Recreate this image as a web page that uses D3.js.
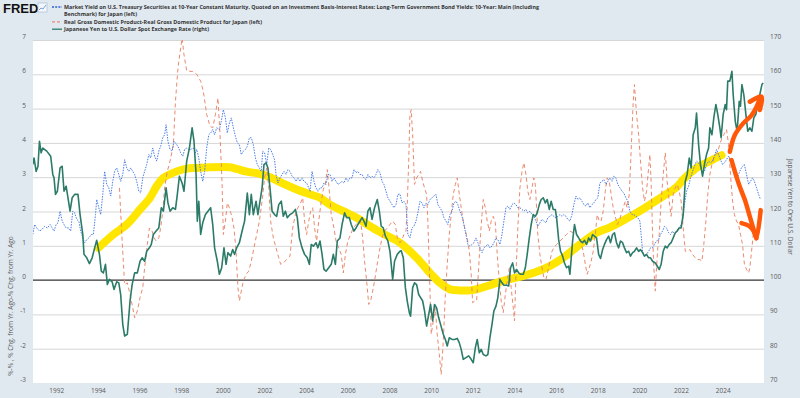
<!DOCTYPE html>
<html>
<head>
<meta charset="utf-8">
<script src="https://cdn.jsdelivr.net/npm/d3@7"></script>
<style>
  body { margin: 0; background: #e1e9f0; }
  text { font-family: "Open Sans", Arial, sans-serif; }
</style>
</head>
<body>
<div id="viz"></div>
<script>
// legend + axis text
const legendLabels = [
    "Market Yield on U.S. Treasury Securities at 10-Year Constant Maturity, Quoted on an Investment Basis-Interest Rates: Long-Term Government Bond Yields: 10-Year: Main (Including",
    "Benchmark) for Japan (left)",
    "Real Gross Domestic Product-Real Gross Domestic Product for Japan (left)",
    "Japanese Yen to U.S. Dollar Spot Exchange Rate (right)"
];
const leftTitle = "%-% , % Chg. from Yr. Ago-% Chg. from Yr. Ago";
const rightTitle = "Japanese Yen to One U.S. Dollar";
const xTicks = [1992, 1994, 1996, 1998, 2000, 2002, 2004, 2006, 2008, 2010, 2012, 2014, 2016, 2018, 2020, 2022, 2024];
const leftTicks = [-3, -2, -1, 0, 1, 2, 3, 4, 5, 6, 7];
const rightTicks = [70, 80, 90, 100, 110, 120, 130, 140, 150, 160, 170];

// [year, yen per dollar] (right axis)
const yenSeries = [
    [1990.85,133.7],[1990.91,135.6],[1991.01,131.7],[1991.10,133.2],[1991.17,140.5],[1991.25,137.1],[1991.33,138.5],[1991.52,137.6],
    [1991.71,136.1],[1991.81,130.8],[1991.87,129.8],[1991.94,125.0],[1992.03,125.9],[1992.16,132.7],[1992.26,133.2],[1992.35,125.9],
    [1992.45,127.4],[1992.54,124.0],[1992.64,120.1],[1992.74,124.0],[1992.86,125.0],[1993.02,125.0],[1993.12,119.1],[1993.25,113.3],
    [1993.31,107.5],[1993.44,106.5],[1993.57,104.8],[1993.70,106.5],[1993.82,109.4],[1993.92,111.6],[1994.05,107.5],[1994.14,102.6],
    [1994.24,102.1],[1994.34,104.6],[1994.43,98.7],[1994.53,100.2],[1994.66,99.5],[1994.75,97.3],[1994.88,99.5],[1994.98,99.2],
    [1995.07,95.8],[1995.17,87.1],[1995.26,83.7],[1995.39,84.2],[1995.52,93.9],[1995.62,98.7],[1995.74,102.1],[1995.87,102.1],
    [1996.00,105.5],[1996.10,106.5],[1996.22,105.5],[1996.32,108.4],[1996.45,109.4],[1996.54,110.4],[1996.64,113.3],[1996.77,114.3],
    [1996.90,115.2],[1997.02,121.1],[1997.12,120.1],[1997.25,126.9],[1997.34,122.5],[1997.44,120.1],[1997.57,121.1],[1997.70,120.6],
    [1997.79,125.0],[1997.89,130.3],[1998.02,128.3],[1998.11,125.9],[1998.24,134.7],[1998.37,138.5],[1998.50,144.4],[1998.59,140.5],
    [1998.69,130.8],[1998.75,117.2],[1998.82,123.0],[1998.91,113.3],[1999.01,116.7],[1999.14,119.1],[1999.26,120.1],[1999.39,121.1],
    [1999.49,116.2],[1999.58,109.4],[1999.71,105.5],[1999.81,101.7],[1999.92,103.6],[2000.03,109.4],[2000.13,104.6],[2000.22,108.0],
    [2000.35,107.0],[2000.45,108.9],[2000.54,107.5],[2000.64,109.4],[2000.77,110.9],[2000.90,114.3],[2001.02,117.2],[2001.15,125.4],
    [2001.25,119.1],[2001.34,125.0],[2001.44,119.1],[2001.57,123.0],[2001.66,119.1],[2001.76,123.0],[2001.86,126.9],[2001.95,133.7],
    [2002.05,134.2],[2002.14,132.7],[2002.24,126.9],[2002.34,120.1],[2002.46,119.1],[2002.56,118.6],[2002.66,122.0],[2002.78,123.0],
    [2002.88,118.6],[2002.98,120.1],[2003.07,118.2],[2003.20,119.1],[2003.33,119.6],[2003.46,120.6],[2003.55,118.2],[2003.65,112.3],
    [2003.78,109.4],[2003.90,107.5],[2004.03,106.5],[2004.13,104.6],[2004.22,110.4],[2004.32,109.9],[2004.45,110.9],[2004.54,109.4],
    [2004.64,111.4],[2004.74,107.5],[2004.83,103.1],[2004.93,102.6],[2005.06,103.6],[2005.18,104.6],[2005.28,107.5],[2005.38,104.6],
    [2005.47,111.4],[2005.60,112.3],[2005.70,116.2],[2005.82,119.6],[2005.92,118.2],[2006.05,118.2],[2006.14,116.2],[2006.27,114.3],
    [2006.37,115.2],[2006.46,116.2],[2006.56,117.2],[2006.66,118.2],[2006.75,117.2],[2006.85,115.7],[2006.94,120.1],[2007.04,121.1],
    [2007.14,117.7],[2007.26,121.1],[2007.39,123.5],[2007.49,120.1],[2007.58,115.7],[2007.68,115.2],[2007.78,112.8],[2007.90,111.4],
    [2008.00,108.4],[2008.13,100.2],[2008.22,105.5],[2008.35,107.5],[2008.48,108.4],[2008.54,108.6],[2008.64,106.5],[2008.74,97.8],
    [2008.83,93.9],[2008.93,90.5],[2008.99,89.5],[2009.09,97.8],[2009.18,99.2],[2009.28,98.7],[2009.38,95.8],[2009.47,94.9],
    [2009.57,93.9],[2009.66,91.0],[2009.76,86.6],[2009.86,90.0],[2009.95,92.9],[2010.05,88.1],[2010.14,92.9],[2010.24,91.9],
    [2010.34,89.0],[2010.43,87.1],[2010.56,84.2],[2010.66,82.7],[2010.75,80.8],[2010.85,83.2],[2010.98,82.7],[2011.10,82.7],
    [2011.23,83.0],[2011.33,81.7],[2011.42,79.8],[2011.52,76.9],[2011.65,77.4],[2011.78,77.9],[2011.90,76.9],[2012.00,75.9],
    [2012.10,80.3],[2012.19,82.7],[2012.29,78.8],[2012.38,79.8],[2012.48,78.3],[2012.61,77.9],[2012.70,78.3],[2012.80,83.2],
    [2012.90,87.1],[2012.99,91.0],[2013.09,92.4],[2013.18,94.9],[2013.28,100.2],[2013.38,99.2],[2013.47,98.5],[2013.60,98.5],
    [2013.70,98.3],[2013.79,103.6],[2013.89,105.0],[2013.98,102.1],[2014.08,103.1],[2014.18,102.1],[2014.27,101.7],[2014.40,101.7],
    [2014.50,103.6],[2014.59,107.5],[2014.69,112.3],[2014.78,116.2],[2014.88,119.1],[2014.98,118.6],[2015.07,119.6],[2015.17,122.0],
    [2015.26,123.5],[2015.36,124.0],[2015.46,122.5],[2015.55,123.5],[2015.65,120.6],[2015.74,123.0],[2015.84,120.6],[2015.94,120.6],
    [2016.00,118.2],[2016.10,111.8],[2016.19,108.4],[2016.29,107.0],[2016.38,105.0],[2016.48,103.6],[2016.58,104.1],[2016.64,101.7],
    [2016.77,111.4],[2016.86,116.2],[2016.96,113.3],[2017.06,112.3],[2017.15,111.4],[2017.25,110.9],[2017.34,111.6],[2017.44,110.4],
    [2017.54,112.3],[2017.63,111.4],[2017.73,113.3],[2017.82,112.8],[2017.92,112.3],[2018.02,107.5],[2018.11,106.3],[2018.21,108.9],
    [2018.30,110.4],[2018.40,111.8],[2018.50,112.8],[2018.59,110.9],[2018.69,113.3],[2018.78,113.8],[2018.88,110.9],[2018.98,109.4],
    [2019.07,111.4],[2019.17,110.9],[2019.26,109.4],[2019.36,108.0],[2019.46,108.4],[2019.55,107.0],[2019.65,108.0],[2019.74,108.4],
    [2019.84,109.4],[2019.94,108.4],[2020.03,108.9],[2020.13,108.0],[2020.22,107.0],[2020.32,107.5],[2020.42,106.5],[2020.51,106.5],
    [2020.61,105.5],[2020.74,105.0],[2020.83,104.1],[2020.93,103.1],[2021.02,104.6],[2021.12,108.4],[2021.22,109.9],[2021.31,109.4],
    [2021.41,110.4],[2021.50,110.9],[2021.60,112.3],[2021.70,113.8],[2021.79,114.3],[2021.89,115.2],[2021.98,115.2],[2022.08,119.1],
    [2022.18,128.8],[2022.27,130.8],[2022.37,135.6],[2022.46,132.7],[2022.56,142.4],[2022.66,144.4],[2022.72,148.7],[2022.82,139.5],
    [2022.91,133.7],[2023.01,130.3],[2023.10,133.7],[2023.20,136.6],[2023.30,138.5],[2023.36,144.4],[2023.46,142.4],[2023.55,147.3],
    [2023.65,151.2],[2023.74,148.3],[2023.84,144.4],[2023.90,141.5],[2024.00,148.3],[2024.10,151.2],[2024.16,149.7],[2024.22,158.0],
    [2024.32,158.0],[2024.42,160.9],[2024.48,154.1],[2024.58,146.3],[2024.67,143.4],[2024.77,152.1],[2024.83,150.7],[2024.90,157.0],
    [2024.99,154.1],[2025.09,148.3],[2025.18,143.4],[2025.28,144.4],[2025.38,143.4],[2025.47,147.3],[2025.57,148.3],[2025.66,151.2],
    [2025.76,154.1],[2025.86,157.0],[2025.92,157.5]
];

// [year, %] 10y UST minus 10y JGB (left axis)
const spreadSeries = [
    [1990.85,1.33],[1990.94,1.62],[1991.04,1.52],[1991.17,1.43],[1991.30,1.48],[1991.42,1.57],[1991.55,1.52],[1991.68,1.62],
    [1991.78,1.52],[1991.87,1.43],[1991.97,1.62],[1992.06,1.67],[1992.16,2.01],[1992.26,1.72],[1992.35,1.62],[1992.45,1.52],
    [1992.58,1.52],[1992.67,1.43],[1992.77,2.01],[1992.86,1.96],[1992.96,1.77],[1993.06,1.72],[1993.15,1.43],[1993.25,1.23],
    [1993.34,1.09],[1993.44,1.18],[1993.54,1.23],[1993.66,1.33],[1993.76,1.33],[1993.86,1.91],[1993.92,2.35],[1994.02,2.11],
    [1994.11,1.91],[1994.21,2.50],[1994.30,3.17],[1994.40,2.79],[1994.50,2.69],[1994.59,2.45],[1994.69,2.88],[1994.78,3.17],
    [1994.88,3.27],[1994.98,3.08],[1995.07,2.88],[1995.17,3.08],[1995.26,3.51],[1995.36,3.27],[1995.46,3.17],[1995.55,3.27],
    [1995.65,3.17],[1995.74,3.08],[1995.84,2.88],[1995.94,2.59],[1996.03,2.54],[1996.13,2.98],[1996.22,3.17],[1996.32,3.37],
    [1996.42,3.66],[1996.51,3.56],[1996.61,3.85],[1996.70,3.61],[1996.80,3.47],[1996.90,3.76],[1996.99,3.90],[1997.09,4.15],
    [1997.18,4.24],[1997.25,4.53],[1997.34,4.05],[1997.44,3.81],[1997.54,3.76],[1997.63,4.05],[1997.76,3.95],[1997.86,3.85],
    [1997.95,3.71],[1998.05,3.61],[1998.14,3.81],[1998.24,3.85],[1998.34,3.81],[1998.43,3.81],[1998.56,3.85],[1998.66,3.71],
    [1998.72,3.81],[1998.82,3.56],[1998.91,3.17],[1999.01,2.88],[1999.10,3.17],[1999.20,3.85],[1999.30,4.24],[1999.39,4.29],
    [1999.49,4.39],[1999.58,4.24],[1999.68,4.44],[1999.81,4.39],[1999.90,4.63],[2000.00,4.97],[2000.10,4.73],[2000.19,4.29],
    [2000.29,4.58],[2000.38,4.73],[2000.48,4.44],[2000.58,4.19],[2000.67,4.00],[2000.77,3.95],[2000.86,3.66],[2000.96,3.76],
    [2001.06,3.81],[2001.15,3.90],[2001.25,4.15],[2001.34,4.15],[2001.44,3.95],[2001.54,3.56],[2001.63,3.37],[2001.73,3.27],
    [2001.82,3.17],[2001.89,3.76],[2001.98,3.71],[2002.08,3.37],[2002.18,3.85],[2002.27,3.81],[2002.37,3.66],[2002.46,3.51],
    [2002.53,3.08],[2002.62,2.83],[2002.72,2.98],[2002.82,3.08],[2002.91,3.17],[2003.01,3.08],[2003.10,3.22],[2003.20,3.17],
    [2003.30,3.03],[2003.39,2.98],[2003.49,2.88],[2003.58,2.98],[2003.68,2.88],[2003.78,2.98],[2003.87,2.88],[2004.00,2.83],
    [2004.10,2.69],[2004.16,2.59],[2004.26,3.17],[2004.35,2.88],[2004.45,2.69],[2004.54,2.59],[2004.64,2.69],[2004.74,2.69],
    [2004.83,2.83],[2004.93,2.79],[2005.02,3.08],[2005.12,3.08],[2005.22,2.88],[2005.31,2.98],[2005.41,2.88],[2005.50,2.79],
    [2005.60,2.83],[2005.70,2.88],[2005.79,2.83],[2005.89,2.98],[2005.98,2.88],[2006.08,2.98],[2006.18,2.98],[2006.27,3.22],
    [2006.37,3.13],[2006.46,3.17],[2006.56,3.08],[2006.66,3.08],[2006.75,2.98],[2006.85,2.93],[2006.94,3.08],[2007.04,2.98],
    [2007.14,3.03],[2007.23,2.98],[2007.33,3.08],[2007.42,3.22],[2007.52,3.13],[2007.62,2.88],[2007.71,2.79],[2007.81,2.59],
    [2007.90,2.40],[2008.00,2.30],[2008.10,2.20],[2008.19,2.11],[2008.29,2.20],[2008.38,2.50],[2008.48,2.51],[2008.58,2.25],
    [2008.67,2.30],[2008.77,2.20],[2008.86,1.33],[2008.96,1.23],[2009.06,1.52],[2009.15,1.57],[2009.25,1.72],[2009.34,1.96],
    [2009.44,2.30],[2009.54,2.25],[2009.63,2.11],[2009.73,2.25],[2009.82,2.20],[2009.92,2.35],[2010.02,2.40],[2010.11,2.45],
    [2010.21,2.50],[2010.30,2.20],[2010.40,2.11],[2010.50,2.01],[2010.59,1.82],[2010.69,1.72],[2010.78,1.62],[2010.88,1.91],
    [2010.98,2.01],[2011.07,2.25],[2011.17,2.30],[2011.26,2.20],[2011.36,2.01],[2011.46,1.86],[2011.55,1.62],[2011.65,1.33],
    [2011.74,1.04],[2011.84,0.99],[2011.94,1.04],[2012.03,1.09],[2012.13,1.23],[2012.22,1.09],[2012.32,0.94],[2012.42,0.80],
    [2012.51,0.94],[2012.61,0.99],[2012.70,1.04],[2012.80,0.94],[2012.90,0.99],[2012.99,1.09],[2013.09,1.23],[2013.18,1.18],
    [2013.28,1.04],[2013.38,1.33],[2013.47,1.72],[2013.57,2.11],[2013.66,2.16],[2013.76,2.06],[2013.86,2.20],[2013.95,2.25],
    [2014.05,2.20],[2014.14,2.11],[2014.24,2.11],[2014.34,2.06],[2014.43,2.01],[2014.53,2.06],[2014.62,1.96],[2014.72,2.01],
    [2014.82,1.91],[2014.91,1.86],[2015.01,1.72],[2015.10,1.57],[2015.20,1.67],[2015.30,1.77],[2015.39,1.72],[2015.49,1.67],
    [2015.58,1.82],[2015.68,1.86],[2015.78,1.91],[2015.87,1.86],[2015.97,1.82],[2016.06,1.86],[2016.16,1.91],[2016.26,1.86],
    [2016.35,1.91],[2016.45,1.86],[2016.54,1.77],[2016.64,1.72],[2016.74,1.91],[2016.83,2.20],[2016.93,2.45],[2017.02,2.35],
    [2017.12,2.40],[2017.22,2.30],[2017.31,2.20],[2017.41,2.16],[2017.50,2.25],[2017.60,2.11],[2017.70,2.20],[2017.79,2.25],
    [2017.89,2.35],[2017.98,2.40],[2018.08,2.83],[2018.18,2.88],[2018.27,2.93],[2018.37,2.79],[2018.46,2.88],[2018.56,2.98],
    [2018.66,2.88],[2018.75,3.03],[2018.85,2.98],[2018.94,2.79],[2019.04,2.69],[2019.14,2.59],[2019.23,2.54],[2019.33,2.40],
    [2019.42,2.30],[2019.52,2.01],[2019.62,1.91],[2019.71,1.91],[2019.81,1.86],[2019.90,1.82],[2020.00,1.72],[2020.06,1.33],
    [2020.13,0.84],[2020.22,0.70],[2020.32,0.75],[2020.42,0.84],[2020.51,0.94],[2020.61,0.94],[2020.70,1.04],[2020.80,1.14],
    [2020.90,1.18],[2020.99,1.33],[2021.09,1.43],[2021.18,1.57],[2021.28,1.52],[2021.38,1.38],[2021.47,1.33],[2021.57,1.43],
    [2021.66,1.33],[2021.76,1.43],[2021.86,1.52],[2021.95,1.57],[2022.05,1.72],[2022.14,2.20],[2022.24,2.59],[2022.34,2.74],
    [2022.43,2.98],[2022.53,3.17],[2022.62,3.32],[2022.72,3.47],[2022.82,3.42],[2022.91,3.32],[2023.01,3.13],[2023.10,3.17],
    [2023.20,3.37],[2023.30,3.47],[2023.39,3.42],[2023.49,3.47],[2023.58,3.61],[2023.68,3.81],[2023.78,3.66],[2023.87,3.51],
    [2023.97,3.37],[2024.06,3.42],[2024.16,3.51],[2024.26,3.61],[2024.35,3.51],[2024.45,3.27],[2024.54,3.08],[2024.64,2.88],
    [2024.74,3.08],[2024.83,3.22],[2024.93,3.32],[2025.02,3.37],[2025.12,3.08],[2025.22,2.79],[2025.31,2.88],[2025.41,2.98],
    [2025.50,2.88],[2025.60,2.69],[2025.70,2.50],[2025.79,2.35]
];

// [year, % chg from yr ago] Japan real GDP (left axis)
const gdpSeries = [
    [1995.01,2.69],[1995.14,1.14],[1995.26,-0.13],[1995.39,-0.08],[1995.52,-0.42],[1995.65,-0.81],[1995.74,-1.10],[1995.87,-0.90],
    [1996.00,-0.51],[1996.13,-0.22],[1996.22,0.36],[1996.35,1.04],[1996.45,1.52],[1996.58,1.43],[1996.67,1.23],[1996.77,1.14],
    [1996.90,1.23],[1996.99,1.52],[1997.09,2.01],[1997.18,2.69],[1997.31,3.17],[1997.44,3.47],[1997.60,3.95],[1997.70,5.21],
    [1997.82,6.18],[1997.95,6.77],[1998.02,7.05],[1998.11,6.57],[1998.24,6.10],[1998.53,6.08],[1998.72,6.00],[1998.91,5.80],
    [1999.04,5.50],[1999.20,4.83],[1999.36,4.49],[1999.49,4.44],[1999.62,4.83],[1999.74,5.31],[1999.84,4.24],[1999.94,2.79],
    [2000.00,1.33],[2000.10,1.72],[2000.19,2.25],[2000.29,2.11],[2000.42,1.82],[2000.51,1.52],[2000.61,0.84],[2000.70,-0.22],
    [2000.77,-0.61],[2000.86,-0.32],[2000.96,-0.03],[2001.09,0.17],[2001.22,0.26],[2001.34,0.55],[2001.47,0.94],[2001.60,1.33],
    [2001.73,1.72],[2001.86,2.30],[2001.98,2.98],[2002.08,3.27],[2002.18,2.69],[2002.27,1.72],[2002.40,1.23],[2002.53,0.94],
    [2002.66,0.65],[2002.75,0.46],[2002.88,0.50],[2003.04,0.60],[2003.20,0.70],[2003.33,1.52],[2003.46,1.91],[2003.58,2.11],
    [2003.71,2.25],[2003.81,2.40],[2003.90,1.72],[2004.00,1.33],[2004.10,1.72],[2004.19,2.01],[2004.29,2.11],[2004.38,1.52],
    [2004.48,1.14],[2004.58,1.72],[2004.70,2.30],[2004.80,2.64],[2004.90,2.83],[2004.99,3.22],[2005.09,2.59],[2005.18,1.91],
    [2005.31,1.52],[2005.41,1.14],[2005.54,0.94],[2005.66,0.75],[2005.76,0.21],[2005.86,0.75],[2005.98,1.14],[2006.11,1.33],
    [2006.24,1.52],[2006.37,1.62],[2006.50,1.72],[2006.59,1.72],[2006.69,1.23],[2006.78,0.55],[2006.88,-0.03],[2006.98,-0.71],
    [2007.07,-0.61],[2007.17,-0.32],[2007.26,-0.03],[2007.36,0.36],[2007.49,0.84],[2007.62,1.23],[2007.74,1.43],[2007.87,1.52],
    [2008.00,1.62],[2008.13,1.72],[2008.26,1.62],[2008.35,1.23],[2008.48,1.09],[2008.58,1.18],[2008.67,1.33],[2008.77,1.43],
    [2008.83,2.20],[2008.90,3.47],[2008.96,4.83],[2009.02,4.97],[2009.09,4.24],[2009.18,2.79],[2009.28,2.98],[2009.38,3.08],
    [2009.47,3.17],[2009.57,2.88],[2009.66,2.69],[2009.76,2.50],[2009.82,1.72],[2009.89,0.36],[2009.98,-1.58],[2010.08,-1.19],
    [2010.18,-0.81],[2010.27,-1.58],[2010.37,-2.17],[2010.46,-2.75],[2010.56,-1.78],[2010.66,-0.42],[2010.75,0.46],[2010.85,1.33],
    [2010.94,1.91],[2011.04,2.50],[2011.14,2.79],[2011.23,2.98],[2011.33,2.50],[2011.42,2.11],[2011.52,1.72],[2011.62,1.43],
    [2011.71,1.23],[2011.81,0.84],[2011.90,0.17],[2011.97,-0.66],[2012.06,-0.61],[2012.16,-0.61],[2012.26,0.36],[2012.35,1.33],
    [2012.42,1.91],[2012.48,2.35],[2012.58,2.11],[2012.67,1.72],[2012.77,1.43],[2012.86,1.72],[2012.96,1.86],[2013.06,1.67],
    [2013.15,0.75],[2013.25,-0.03],[2013.34,-0.61],[2013.44,-0.95],[2013.54,-0.42],[2013.63,-0.03],[2013.73,0.36],[2013.82,-0.22],
    [2013.92,-0.81],[2013.98,-1.19],[2014.05,0.17],[2014.14,1.52],[2014.24,2.69],[2014.34,3.17],[2014.43,3.42],[2014.53,3.08],
    [2014.62,2.59],[2014.72,2.35],[2014.82,2.69],[2014.91,2.98],[2014.98,2.79],[2015.04,2.11],[2015.10,1.33],[2015.20,0.75],
    [2015.30,0.36],[2015.39,0.07],[2015.49,0.02],[2015.58,0.26],[2015.68,0.55],[2015.78,0.84],[2015.87,0.94],[2016.00,1.04],
    [2016.16,1.14],[2016.32,1.23],[2016.48,1.33],[2016.64,1.43],[2016.80,1.38],[2016.96,1.33],[2017.12,1.23],[2017.28,0.84],
    [2017.38,0.46],[2017.47,0.17],[2017.57,0.36],[2017.66,0.55],[2017.76,0.84],[2017.86,1.33],[2017.95,1.91],[2018.05,1.72],
    [2018.14,1.72],[2018.24,2.01],[2018.34,2.59],[2018.43,2.98],[2018.53,2.88],[2018.62,2.50],[2018.72,2.11],[2018.82,1.86],
    [2018.91,1.62],[2019.01,1.72],[2019.10,1.91],[2019.20,2.11],[2019.30,2.30],[2019.39,2.11],[2019.49,2.50],[2019.58,3.76],
    [2019.68,5.21],[2019.74,5.70],[2019.84,4.83],[2019.94,4.24],[2020.03,3.47],[2020.13,2.69],[2020.22,2.30],[2020.32,2.59],
    [2020.42,3.27],[2020.48,3.66],[2020.54,2.88],[2020.61,1.33],[2020.67,0.36],[2020.74,-0.32],[2020.80,0.36],[2020.86,0.94],
    [2020.93,1.33],[2021.02,2.30],[2021.12,3.08],[2021.22,3.71],[2021.31,2.88],[2021.41,2.30],[2021.50,1.86],[2021.60,2.50],
    [2021.70,2.69],[2021.79,2.79],[2021.89,2.59],[2021.98,2.30],[2022.08,1.52],[2022.18,0.84],[2022.27,0.84],[2022.40,0.89],
    [2022.53,0.75],[2022.66,0.65],[2022.78,0.60],[2022.88,0.60],[2022.98,0.55],[2023.07,1.04],[2023.17,1.72],[2023.26,2.50],
    [2023.36,3.08],[2023.46,3.37],[2023.55,3.56],[2023.65,3.66],[2023.74,3.76],[2023.84,3.95],[2023.94,4.15],[2024.03,4.24],
    [2024.16,4.39],[2024.26,3.95],[2024.35,3.08],[2024.45,2.30],[2024.54,1.91],[2024.64,1.72],[2024.74,1.62],[2024.83,1.33],
    [2024.93,1.04],[2025.02,0.46],[2025.12,0.31],[2025.22,0.21],[2025.28,0.36],[2025.38,0.94],[2025.47,1.52]
];

// hand-drawn annotations, in [year, left-axis value]
const trendHighlight = [
    [1994.00,0.94],[1994.72,1.33],[1995.36,1.62],[1996.00,2.06],[1996.48,2.40],[1996.80,2.74],[1997.12,2.98],[1997.76,3.17],
    [1998.24,3.25],[1998.72,3.27],[1999.36,3.29],[2000.32,3.29],[2000.64,3.24],[2001.12,3.16],[2001.76,3.10],[2002.24,3.00],
    [2002.88,2.81],[2003.52,2.64],[2004.16,2.50],[2004.64,2.40],[2005.12,2.20],[2005.76,2.01],[2006.40,1.82],[2007.04,1.57],
    [2007.68,1.35],[2008.48,1.09],[2009.28,0.65],[2009.92,0.21],[2010.40,-0.08],[2010.88,-0.27],[2011.36,-0.30],[2011.84,-0.30],
    [2012.32,-0.24],[2012.80,-0.15],[2013.28,-0.05],[2013.92,0.05],[2014.40,0.12],[2015.04,0.24],[2015.68,0.41],[2016.32,0.65],
    [2017.12,1.04],[2017.92,1.38],[2018.56,1.54],[2019.20,1.74],[2019.84,1.96],[2020.48,2.20],[2021.12,2.45],[2021.76,2.71],
    [2022.08,2.93],[2022.72,3.27],[2023.36,3.47],[2023.92,3.64]
];
const arrowUp = [[2024.32,3.74],[2024.56,4.23],[2024.96,4.57],[2025.37,4.81],[2025.61,5.06],[2025.76,5.30]];
const arrowUpHead = [[2025.28,5.20],[2025.84,5.35],[2025.76,4.96]];
const arrowDown = [[2024.40,3.50],[2024.64,3.01],[2024.80,2.72],[2025.04,2.34],[2025.28,1.85],[2025.52,1.36],[2025.60,1.22]];
const arrowDownHead = [[2024.88,1.66],[2025.28,1.56],[2025.52,1.36],[2025.60,1.22],[2025.80,2.04]];

const width = 800;
const height = 398;
const margin = {left: 33, right: 36, top: 40, bottom: 15};

const svg = d3.select("#viz").append("svg")
    .attr("width", width)
    .attr("height", height);

svg.append("rect")
    .attr("width", width).attr("height", height)
    .attr("fill", "#e1e9f0");

const x = d3.scaleLinear()
    .domain([1990.86, 2025.96])
    .range([margin.left, width - margin.right]);
const yLeft = d3.scaleLinear()
    .domain([-3, 7])
    .range([height - margin.bottom, margin.top]);
const yRight = d3.scaleLinear()
    .domain([70, 170])
    .range([height - margin.bottom, margin.top]);

// plot area
svg.append("rect")
    .attr("x", margin.left).attr("y", margin.top)
    .attr("width", width - margin.left - margin.right)
    .attr("height", height - margin.top - margin.bottom)
    .attr("fill", "white");

svg.append("clipPath").attr("id", "plot-clip")
    .append("rect")
    .attr("x", margin.left).attr("y", margin.top)
    .attr("width", width - margin.left - margin.right)
    .attr("height", height - margin.top - margin.bottom);

// gridlines
svg.selectAll(".grid")
    .data(leftTicks.filter(d => d !== 0 && d !== -3))
    .join("line")
        .attr("class", "grid")
        .attr("x1", margin.left).attr("x2", width - margin.right)
        .attr("y1", d => yLeft(d) + 0.5).attr("y2", d => yLeft(d) + 0.5)
        .attr("stroke", "#d6d6d6")
        .attr("stroke-width", 1);

svg.append("line")
    .attr("x1", margin.left).attr("x2", width - margin.right)
    .attr("y1", yLeft(0)).attr("y2", yLeft(0))
    .attr("stroke", "#333")
    .attr("stroke-width", 1.2);

// axis labels
const tickStyle = sel => sel
    .style("font-size", "6.5px")
    .style("fill", "#595959");

svg.selectAll(".x-label")
    .data(xTicks)
    .join("text")
        .attr("class", "x-label")
        .attr("x", d => x(d))
        .attr("y", height - 5)
        .attr("text-anchor", "middle")
        .text(d => d)
        .call(tickStyle);

svg.selectAll(".yl-label")
    .data(leftTicks)
    .join("text")
        .attr("class", "yl-label")
        .attr("x", 26)
        .attr("y", d => yLeft(d) - 1)
        .attr("text-anchor", "end")
        .text(d => d)
        .call(tickStyle);

svg.selectAll(".yr-label")
    .data(rightTicks)
    .join("text")
        .attr("class", "yr-label")
        .attr("x", 770)
        .attr("y", d => yRight(d) - 1)
        .attr("text-anchor", "start")
        .text(d => d)
        .call(tickStyle);

svg.append("text")
    .attr("transform", "translate(13,306) rotate(-90)")
    .attr("text-anchor", "middle")
    .style("font-size", "6.5px")
    .style("fill", "#595959")
    .text(leftTitle);

svg.append("text")
    .attr("transform", "translate(788,207) rotate(90)")
    .attr("text-anchor", "middle")
    .style("font-size", "6.5px")
    .style("fill", "#595959")
    .text(rightTitle);

// series
const plot = svg.append("g").attr("clip-path", "url(#plot-clip)");

const lineLeft = d3.line().x(d => x(d[0])).y(d => yLeft(d[1]));
const lineRight = d3.line().x(d => x(d[0])).y(d => yRight(d[1]));

plot.append("path")
    .datum(trendHighlight)
    .attr("d", lineLeft.curve(d3.curveCatmullRom))
    .attr("fill", "none")
    .attr("stroke", "#ffe600")
    .attr("stroke-width", 8)
    .attr("stroke-linecap", "round")
    .attr("stroke-linejoin", "round");

lineLeft.curve(d3.curveLinear);

plot.append("path")
    .datum(gdpSeries)
    .attr("d", lineLeft)
    .attr("fill", "none")
    .attr("stroke", "#ea8a6f")
    .attr("stroke-width", 1)
    .attr("stroke-dasharray", "4,3");

plot.append("path")
    .datum(spreadSeries)
    .attr("d", lineLeft)
    .attr("fill", "none")
    .attr("stroke", "#4a7ee6")
    .attr("stroke-width", 1)
    .attr("stroke-dasharray", "1.5,1.2");

plot.append("path")
    .datum(yenSeries)
    .attr("d", lineRight)
    .attr("fill", "none")
    .attr("stroke", "#2b7b68")
    .attr("stroke-width", 1.6)
    .attr("stroke-linejoin", "round");

const arrowLine = d3.line().x(d => x(d[0])).y(d => yLeft(d[1])).curve(d3.curveCatmullRom);
[arrowUp, arrowUpHead, arrowDown, arrowDownHead].forEach(pts => {
    svg.append("path")
        .datum(pts)
        .attr("d", arrowLine)
        .attr("fill", "none")
        .attr("stroke", "#ff5808")
        .attr("stroke-width", 4.5)
        .attr("stroke-linecap", "round")
        .attr("stroke-linejoin", "round");
});

// header
svg.append("text")
    .attr("x", 3).attr("y", 13)
    .style("font-size", "13px")
    .style("font-weight", "bold")
    .style("fill", "#111")
    .style("font-family", "Arial, 'Liberation Sans', sans-serif")
    .text("FRED");

const icon = svg.append("g").attr("transform", "translate(38,3)");
icon.append("rect").attr("width", 9).attr("height", 9).attr("fill", "#f4f8fc").attr("stroke", "#9bb5cf").attr("stroke-width", 0.6);
icon.append("polyline").attr("points", "1,7 3,5 5,6 8,2").attr("fill", "none").attr("stroke", "#6d97c4").attr("stroke-width", 0.9);

const legendY = [7, 14.4, 21.8, 29.2];
const legendWidths = [475, 73, 198, 145];
const legendKeys = [
    {color: "#2f5fd0", dash: "2,1.2", row: 0},
    {color: "#ea8a6f", dash: "3,2", row: 2},
    {color: "#2b7b68", dash: null, row: 3}
];

svg.selectAll(".legend-key")
    .data(legendKeys)
    .join("line")
        .attr("class", "legend-key")
        .attr("x1", 52).attr("x2", 62)
        .attr("y1", d => legendY[d.row]).attr("y2", d => legendY[d.row])
        .attr("stroke", d => d.color)
        .attr("stroke-width", 1.3)
        .attr("stroke-dasharray", d => d.dash);

svg.selectAll(".legend-text")
    .data(legendLabels)
    .join("text")
        .attr("class", "legend-text")
        .attr("x", 64)
        .attr("y", (d, i) => legendY[i] + 2)
        .attr("textLength", (d, i) => legendWidths[i])
        .attr("lengthAdjust", "spacingAndGlyphs")
        .style("font-size", "5.6px")
        .style("font-weight", "bold")
        .style("fill", "#333")
        .text(d => d);
</script>
</body>
</html>
